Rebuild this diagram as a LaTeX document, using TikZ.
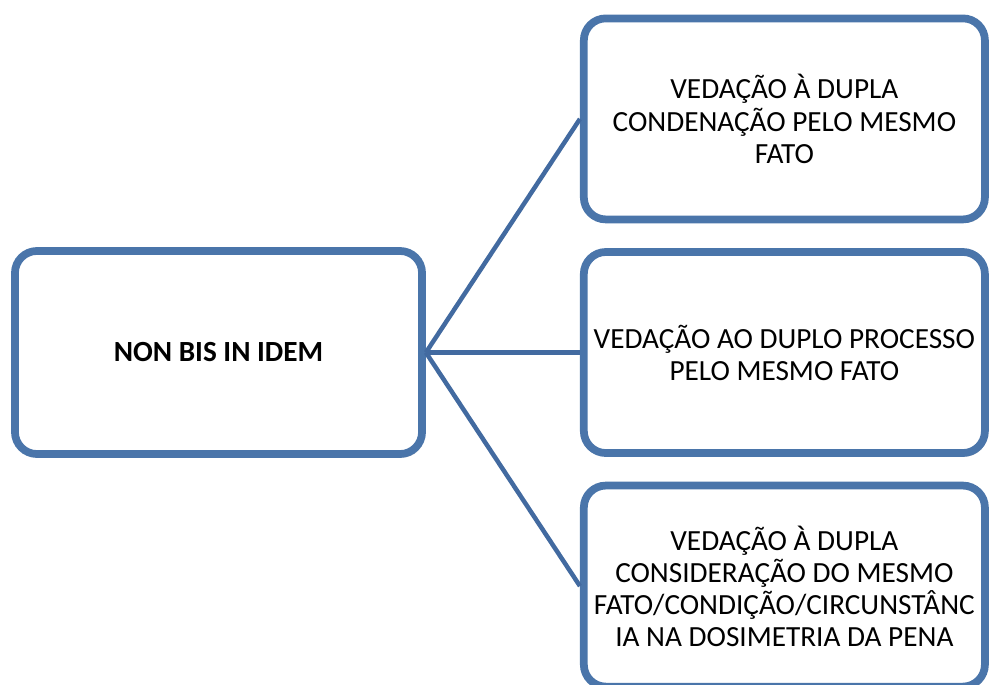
\documentclass[tikz,border=0pt]{standalone}
\usepackage{fontspec}
\setmainfont{Carlito}
\usetikzlibrary{positioning, shadows}

\definecolor{boxblue}{RGB}{74,117,170}
\definecolor{lineblue}{RGB}{66,106,160}

\begin{document}
\begin{tikzpicture}[
        x = 0.025cm, y = 0.025cm,
        node distance = 0.62cm and 3.85cm,
        line width = 3.2pt,
        card/.style = {
            draw = boxblue,
            rectangle,
            line width = 5.5pt,
            rounded corners = 0.55cm,
            fill = white,
            align = center,
            minimum width = 10.025cm,
            minimum height = 5.025cm,
            inner sep = 2pt,
            font = \fontsize{20.8pt}{22.8pt}\selectfont,
            drop shadow = {shadow xshift = 1.5pt, shadow yshift = -2.5pt, opacity = 0.35}
        },
        rootcard/.style = {
            card,
            minimum width = 10.175cm,
            minimum height = 5.075cm,
            font = \fontsize{20.8pt}{22.8pt}\selectfont\bfseries
        },
        link/.style = {draw = lineblue}
    ]

        \useasboundingbox (0,-685) rectangle (989,0);

        \node[rootcard] (root) at (218.5,-352.5) {NON BIS IN IDEM};
        \node[card, right=of root] (processo) {VEDAÇÃO AO DUPLO PROCESSO\\PELO MESMO FATO};
        \node[card, above=of processo] (condena) {VEDAÇÃO À DUPLA\\CONDENAÇÃO PELO MESMO\\FATO};
        \node[card, below=of processo] (dosimetria) {VEDAÇÃO À DUPLA\\CONSIDERAÇÃO DO MESMO\\FATO/CONDIÇÃO/CIRCUNSTÂNC\\IA NA DOSIMETRIA DA PENA};

        \draw[link] (root.east) -- (condena.west);
        \draw[link] (root.east) -- (processo.west);
        \draw[link] (root.east) -- (dosimetria.west);

    \end{tikzpicture}
\end{document}
